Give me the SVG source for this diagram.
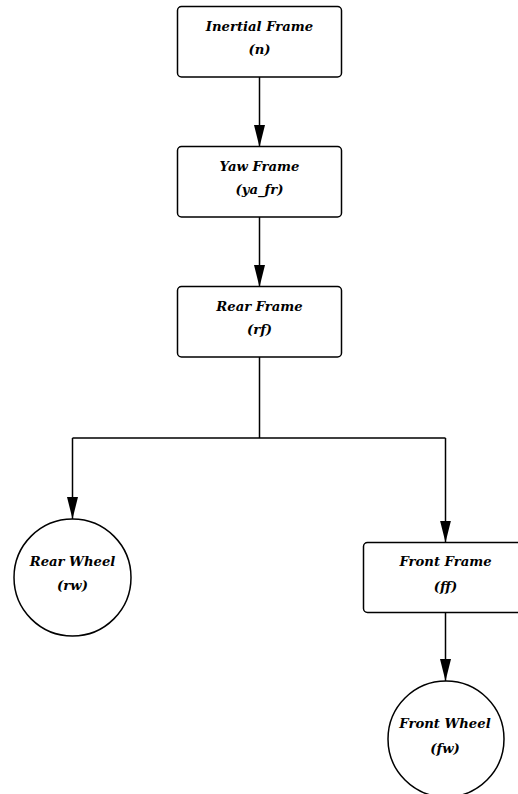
<svg xmlns="http://www.w3.org/2000/svg" width="518" height="794" viewBox="0 0 518 794">
<style>
.node{fill:#fff;stroke:#000;stroke-width:1.5}
.lbl{font-family:"DejaVu Serif",serif;font-weight:bold;font-style:italic;font-size:13.2px;text-anchor:middle;fill:#000}
.edge{fill:none;stroke:#000;stroke-width:1.5}
</style>
<defs>
<marker id="ah" markerUnits="userSpaceOnUse" markerWidth="22" markerHeight="11" refX="22" refY="5.5" orient="auto" viewBox="0 0 22 11">
<polygon points="0,0 22,5.5 0,11" fill="#000"/>
</marker>
</defs>
<rect width="518" height="794" fill="#fff"/>
<g id="connectors">
<path class="edge" d="M259.5,77 V147" marker-end="url(#ah)"/>
<path class="edge" d="M259.5,217 V287" marker-end="url(#ah)"/>
<path class="edge" d="M259.5,357 V438 M72.5,438 H445.5"/>
<path class="edge" d="M72.5,438 V519" marker-end="url(#ah)"/>
<path class="edge" d="M445.5,438 V542.5" marker-end="url(#ah)"/>
<path class="edge" d="M445.5,612.5 V681" marker-end="url(#ah)"/>
</g>
<g id="n">
<rect class="node" x="177.5" y="6.5" width="164" height="70.5" rx="4"/>
<text class="lbl" x="259.5" y="30.5">Inertial Frame</text>
<text class="lbl" x="259.5" y="53.5">(n)</text>
</g>
<g id="ya_fr">
<rect class="node" x="177.5" y="146.5" width="164" height="70.5" rx="4"/>
<text class="lbl" x="259.5" y="170.5">Yaw Frame</text>
<text class="lbl" x="259.5" y="193.5">(ya_fr)</text>
</g>
<g id="rf">
<rect class="node" x="177.5" y="286.5" width="164" height="70.5" rx="4"/>
<text class="lbl" x="259.5" y="310.5">Rear Frame</text>
<text class="lbl" x="259.5" y="333.5">(rf)</text>
</g>
<g id="rw">
<circle class="node" cx="72.5" cy="577.5" r="58.5"/>
<text class="lbl" x="72.5" y="565.7">Rear Wheel</text>
<text class="lbl" x="72.5" y="590">(rw)</text>
</g>
<g id="ff">
<rect class="node" x="363.5" y="542.5" width="164" height="70" rx="4"/>
<text class="lbl" x="445.5" y="566">Front Frame</text>
<text class="lbl" x="445.5" y="590.5">(ff)</text>
</g>
<g id="fw">
<circle class="node" cx="446" cy="739" r="58"/>
<text class="lbl" x="445" y="728.3">Front Wheel</text>
<text class="lbl" x="445" y="752.7">(fw)</text>
</g>
</svg>
